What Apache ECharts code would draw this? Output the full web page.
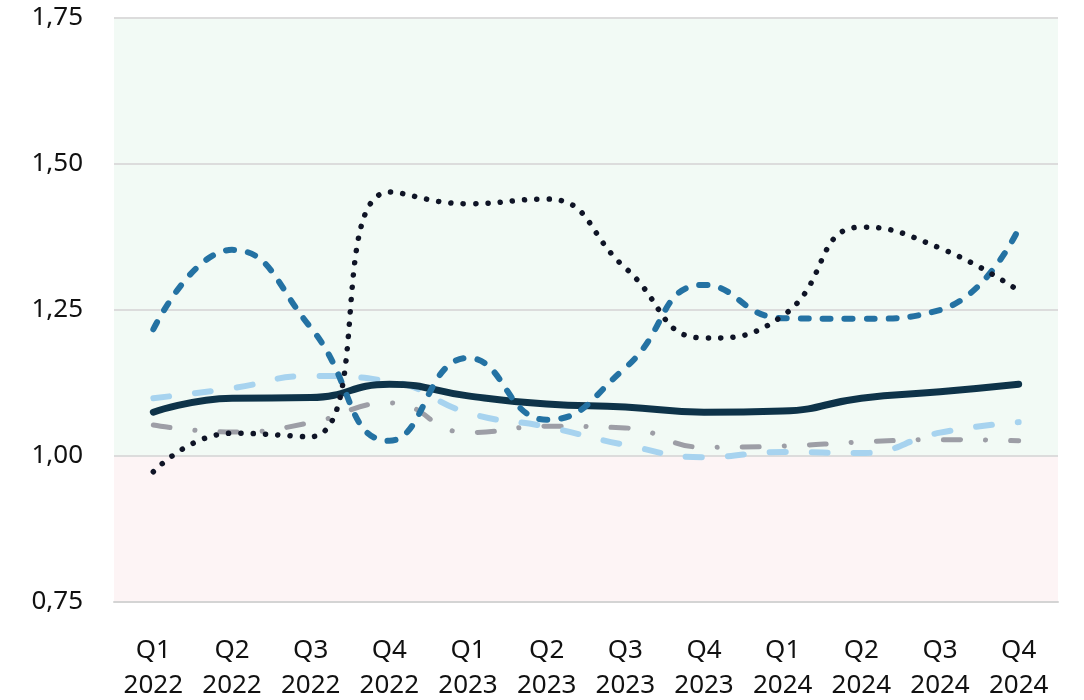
<!DOCTYPE html>
<html>
<head>
<meta charset="utf-8">
<script src="https://cdn.jsdelivr.net/npm/echarts@6/dist/echarts.min.js"></script>
<style>
  html, body { margin: 0; padding: 0; background: #fff; }
  #chart { width: 1084px; height: 700px; }
</style>
</head>
<body>
<div id="chart"></div>
<script>
var quarters = ['Q1\n2022', 'Q2\n2022', 'Q3\n2022', 'Q4\n2022', 'Q1\n2023', 'Q2\n2023', 'Q3\n2023', 'Q4\n2023', 'Q1\n2024', 'Q2\n2024', 'Q3\n2024', 'Q4\n2024'];
var solidNavy = [1.075, 1.099, 1.100, 1.123, 1.103, 1.089, 1.084, 1.075, 1.077, 1.099, 1.110, 1.123];
var dashedBlue = [1.217, 1.353, 1.220, 1.026, 1.168, 1.062, 1.151, 1.293, 1.236, 1.235, 1.250, 1.389];
var dottedDark = [0.973, 1.039, 1.033, 1.452, 1.432, 1.440, 1.322, 1.202, 1.240, 1.392, 1.356, 1.283];
var dashedLight = [1.099, 1.116, 1.137, 1.128, 1.074, 1.050, 1.019, 0.998, 1.007, 1.005, 1.040, 1.058];
var dashDotGrey = [1.053, 1.041, 1.057, 1.091, 1.040, 1.051, 1.048, 1.015, 1.017, 1.024, 1.028, 1.026];
var yTicks = [0.75, 1.00, 1.25, 1.50, 1.75];

var chart = echarts.init(document.getElementById('chart'));

function lineSeries(name, data, color, width, dash, z) {
  return {
    name: name,
    type: 'line',
    data: data,
    smooth: 0.5,
    symbol: 'none',
    z: z,
    lineStyle: { color: color, width: width, type: dash, cap: 'round', join: 'round' }
  };
}

var option = {
  animation: false,
  backgroundColor: '#ffffff',
  textStyle: { fontFamily: 'Noto Sans' },
  grid: { left: 114, right: 26, top: 18, bottom: 98, outerBoundsMode: 'none', containLabel: false },
  xAxis: {
    type: 'category',
    data: quarters,
    boundaryGap: true,
    axisTick: { show: false },
    axisLine: { show: true, lineStyle: { color: '#d4d4d4', width: 2 } },
    axisLabel: { color: '#111', fontSize: 26, lineHeight: 35, margin: 31, interval: 0, fontFamily: 'Noto Sans' }
  },
  yAxis: {
    type: 'value',
    min: yTicks[0],
    max: yTicks[yTicks.length - 1],
    interval: 0.25,
    axisLine: { show: false },
    axisTick: { show: false },
    axisLabel: {
      color: '#111', fontSize: 26, margin: 31, fontFamily: 'Noto Sans',
      formatter: function (v) { return v.toFixed(2).replace('.', ','); }
    },
    splitLine: { lineStyle: { color: '#dcdcdc', width: 2 } },
    splitArea: {
      show: true,
      areaStyle: { color: ['#fdf4f5', '#f2faf5', '#f2faf5', '#f2faf5'] }
    }
  },
  series: [
    lineSeries('grey', dashDotGrey, '#9d9ea6', 5, [17, 25, 0.1, 25], 2),
    lineSeries('light', dashedLight, '#a7d3ef', 6, [16, 26], 3),
    lineSeries('navy', solidNavy, '#0e3349', 7, 'solid', 4),
    lineSeries('blue', dashedBlue, '#2472a3', 6, [8, 14], 5),
    lineSeries('dotted', dottedDark, '#0f1426', 5.5, [0.1, 12.2], 6)
  ]
};

chart.setOption(option);
</script>
</body>
</html>
